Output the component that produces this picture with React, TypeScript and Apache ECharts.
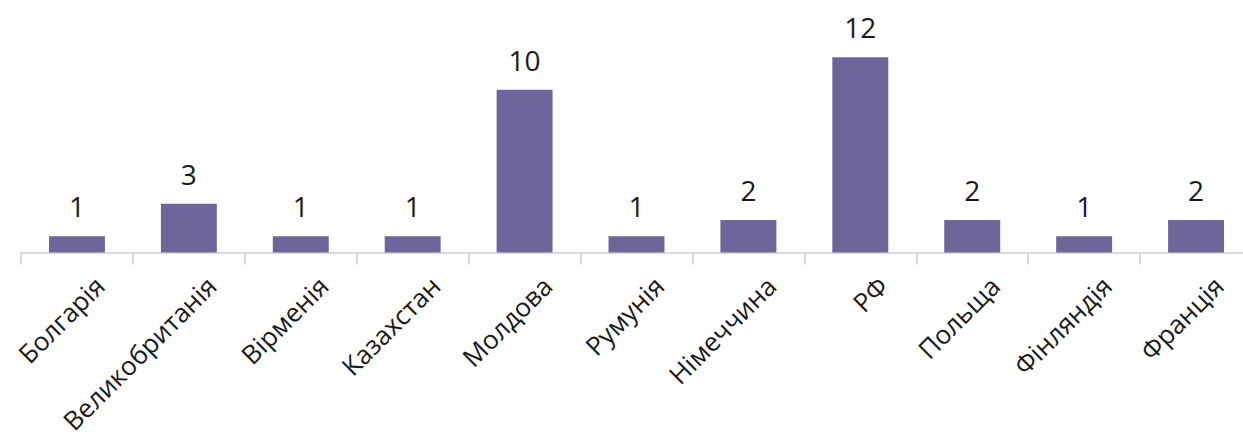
import React, { useEffect, useRef } from "react";
import * as echarts from "echarts";

const categories = [
  "Болгарія",
  "Великобританія",
  "Вірменія",
  "Казахстан",
  "Молдова",
  "Румунія",
  "Німеччина",
  "РФ",
  "Польща",
  "Фінляндія",
  "Франція",
];
const values = [1, 3, 1, 1, 10, 1, 2, 12, 2, 1, 2];

export default function App() {
  const ref = useRef<HTMLDivElement>(null);
  useEffect(() => {
    if (!ref.current) return;
    const chart = echarts.init(ref.current, null, { renderer: "svg" });
    chart.setOption({
      animation: false,
      backgroundColor: "#ffffff",
      grid: {
        left: 21,
        right: -9,
        top: 8.5,
        bottom: 190.5,
        containLabel: false,
        outerBoundsMode: "none",
      },
      xAxis: {
        type: "category",
        data: categories,
        axisLine: { show: true, lineStyle: { color: "#d9d9d9", width: 2 } },
        axisTick: { show: true, length: 12, lineStyle: { color: "#d9d9d9", width: 2 } },
        axisLabel: {
          interval: 0,
          rotate: 45,
          margin: 6,
          fontFamily: "Open Sans",
          fontSize: 26,
          color: "#1a1a1a",
          verticalAlign: "top",
          padding: [19, 0, 0, 0],
        },
      },
      yAxis: {
        type: "value",
        min: 0,
        max: 15,
        show: false,
        splitLine: { show: false },
      },
      series: [
        {
          type: "bar",
          data: values,
          barWidth: "50%",
          itemStyle: { color: "#70659b" },
          label: {
            show: true,
            position: "top",
            distance: 16,
            fontFamily: "Open Sans",
            fontSize: 28,
            color: "#1a1a1a",
          },
        },
      ],
    });
    return () => chart.dispose();
  }, []);
  return (
    <div
      ref={ref}
      style={{ position: "fixed", left: 0, top: 0, width: 1243, height: 443 }}
    />
  );
}
